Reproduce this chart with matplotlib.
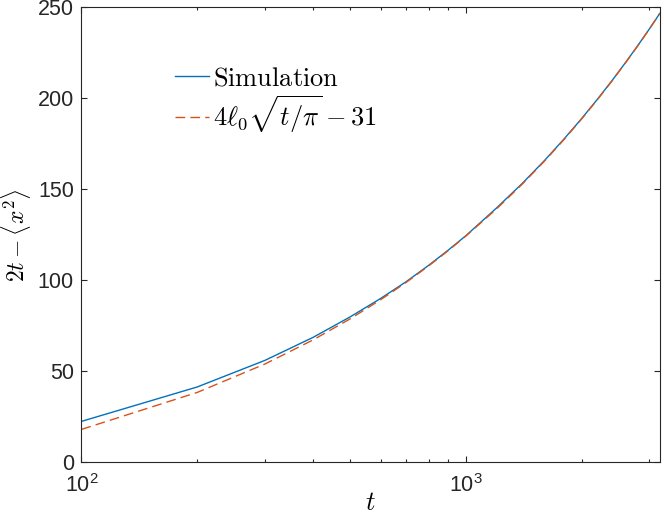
import math
import matplotlib
matplotlib.use("Agg")
import matplotlib.pyplot as plt
from matplotlib.ticker import FixedLocator, FuncFormatter, NullFormatter

plt.rcParams['font.family'] = ['Liberation Sans', 'DejaVu Sans']
plt.rcParams['mathtext.fontset'] = 'cm'

# data
t = [100, 200, 300, 400, 500, 600, 700, 800, 900, 1000,
     1200, 1400, 1600, 1800, 2000, 2200, 2400, 2600, 2800, 3000, 3200]
sim = [22.5, 41.4, 56.0, 68.6, 79.9, 90.0, 99.3, 108.2, 116.6, 124.5,
       139.6, 153.1, 165.7, 177.6, 188.8, 199.5, 209.7, 219.5, 228.9, 238.0, 246.8]
fit = [18.1, 38.4, 54.0, 67.2, 78.8, 89.3, 98.9, 107.9, 116.3, 124.3,
       139.1, 152.7, 165.4, 177.3, 188.6, 199.3, 209.5, 219.4, 228.8, 237.9, 246.8]

x_major = [100, 1000]
x_minor = [200, 300, 400, 500, 600, 700, 800, 900, 2000, 3000]
y_ticks = [0, 50, 100, 150, 200, 250]

blue = '#0072BD'
orange = '#D95319'
axcol = '#262626'

fig = plt.figure(figsize=(6.64, 5.16), dpi=100)
ax = fig.add_axes([0.1227, 0.104, 0.994 - 0.1227, 0.9859 - 0.104])

ax.plot(t, sim, color=blue, lw=1.0, label=r'$\mathrm{Simulation}$')
ax.plot(t, fit, color=orange, lw=1.0, ls=(0, (7, 3.7)),
        label=r'$4\ell_0\sqrt{t/\pi}-31$')

ax.set_xscale('log')
ax.set_xlim(100, 3200)
ax.set_ylim(0, 250)

ax.xaxis.set_major_locator(FixedLocator(x_major))
ax.xaxis.set_minor_locator(FixedLocator(x_minor))
ax.xaxis.set_major_formatter(FuncFormatter(
    lambda v, p: r'$\mathregular{10^{%d}}$' % round(math.log10(v))))
ax.xaxis.set_minor_formatter(NullFormatter())
ax.set_yticks(y_ticks)

for s in ax.spines.values():
    s.set_color(axcol)
    s.set_linewidth(0.8)
ax.tick_params(which='both', direction='in', top=True, right=True,
               colors=axcol, labelsize=15.5, width=0.8)
ax.tick_params(which='major', length=4.3)
ax.tick_params(which='minor', length=2.2)
ax.tick_params(axis='y', pad=5.5)
ax.tick_params(axis='x', pad=8.5)

ax.set_xlabel(r'$t$', fontsize=19, labelpad=-4)
ax.set_ylabel(r'$2t-\langle x^2\rangle$', fontsize=17, labelpad=3)

leg = ax.legend(loc='upper left', bbox_to_anchor=(0.143, 0.893), frameon=False,
                fontsize=19, handlelength=1.3, handletextpad=0.15,
                labelspacing=0.1, borderaxespad=0)

fig.savefig('out.png', dpi=100)
